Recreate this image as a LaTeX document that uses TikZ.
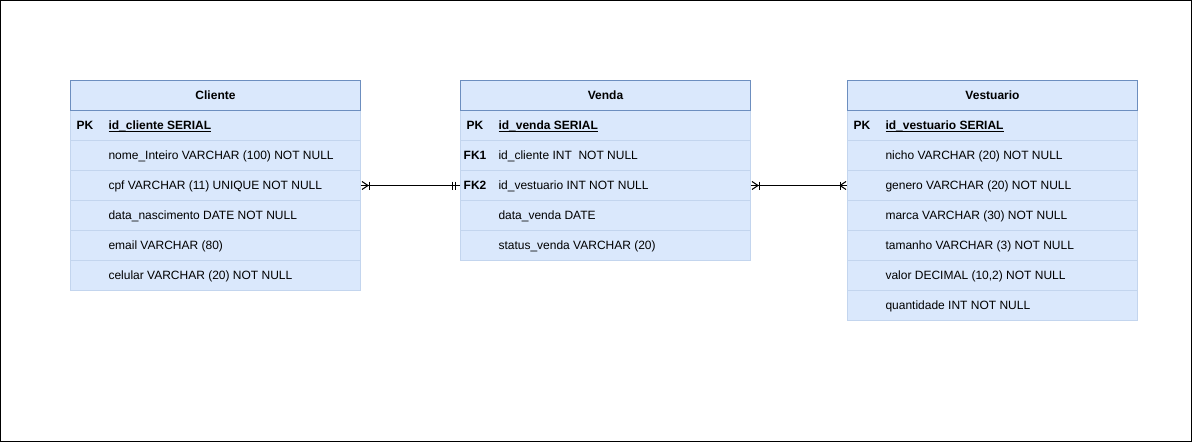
\documentclass[tikz,border=0pt]{standalone}
\usepackage{fontspec}
\setmainfont{Liberation Sans}
\definecolor{erfill}{HTML}{DAE8FC}
\definecolor{erline}{HTML}{6C8EBF}
\definecolor{errow}{HTML}{C3D5EE}
\newcommand\pkul[1]{\underline{\smash{#1}}}
\begin{document}
\begin{tikzpicture}[x=1pt,y=-1pt,line width=1pt,
  font=\fontsize{12}{14}\selectfont,
  rowbox/.style={draw=errow,fill=erfill,minimum width=290pt,minimum height=30pt,inner sep=0pt,anchor=north west},
  headbox/.style={draw=erline,fill=erfill,minimum width=290pt,minimum height=30pt,inner sep=0pt,anchor=north west,font=\fontsize{12}{14}\selectfont\bfseries},
  keytxt/.style={anchor=base,inner sep=0pt,font=\fontsize{12}{14}\selectfont\bfseries},
  fieldtxt/.style={anchor=base west,inner sep=0pt},
  pktxt/.style={anchor=base west,inner sep=0pt,font=\fontsize{12}{14}\selectfont\bfseries},
  conn/.style={draw=black,line width=1pt}
]
\useasboundingbox (0,0) rectangle (1192,442);
\draw[black,line width=1pt] (0.5,0.5) rectangle (1191.5,441.5);

% ---------- Cliente ----------
\foreach \i in {1,...,6} {\node[rowbox] (cr\i) at (70,{80+30*\i}) {};}
\node[headbox] (cliente) at (70,80) {Cliente};
\node[keytxt] (ck1) at (85,129.5) {PK};
\node[pktxt] (cf1) at (108,129.5) {\pkul{id\_cliente SERIAL}};
\node[fieldtxt] (cf2) at (108,159.5) {nome\_Inteiro VARCHAR (100) NOT NULL};
\node[fieldtxt] (cf3) at (108,189.5) {cpf VARCHAR (11) UNIQUE NOT NULL};
\node[fieldtxt] (cf4) at (108,219.5) {data\_nascimento DATE NOT NULL};
\node[fieldtxt] (cf5) at (108,249.5) {email VARCHAR (80)};
\node[fieldtxt] (cf6) at (108,279.5) {celular VARCHAR (20) NOT NULL};

% ---------- Venda ----------
\foreach \i in {1,...,5} {\node[rowbox] (vr\i) at (460,{80+30*\i}) {};}
\node[headbox] (venda) at (460,80) {Venda};
\node[keytxt] (vk1) at (475,129.5) {PK};
\node[keytxt] (vk2) at (475,159.5) {FK1};
\node[keytxt] (vk3) at (475,189.5) {FK2};
\node[pktxt] (vf1) at (498,129.5) {\pkul{id\_venda SERIAL}};
\node[fieldtxt] (vf2) at (498,159.5) {id\_cliente INT\ \ NOT NULL};
\node[fieldtxt] (vf3) at (498,189.5) {id\_vestuario INT NOT NULL};
\node[fieldtxt] (vf4) at (498,219.5) {data\_venda DATE};
\node[fieldtxt] (vf5) at (498,249.5) {status\_venda VARCHAR (20)};

% ---------- Vestuario ----------
\foreach \i in {1,...,7} {\node[rowbox] (sr\i) at (847,{80+30*\i}) {};}
\node[headbox] (vestuario) at (847,80) {Vestuario};
\node[keytxt] (sk1) at (862,129.5) {PK};
\node[pktxt] (sf1) at (885,129.5) {\pkul{id\_vestuario SERIAL}};
\node[fieldtxt] (sf2) at (885,159.5) {nicho VARCHAR (20) NOT NULL};
\node[fieldtxt] (sf3) at (885,189.5) {genero VARCHAR (20) NOT NULL};
\node[fieldtxt] (sf4) at (885,219.5) {marca VARCHAR (30) NOT NULL};
\node[fieldtxt] (sf5) at (885,249.5) {tamanho VARCHAR (3) NOT NULL};
\node[fieldtxt] (sf6) at (885,279.5) {valor DECIMAL (10,2) NOT NULL};
\node[fieldtxt] (sf7) at (885,309.5) {quantidade INT NOT NULL};

% ---------- Connector Cliente -- Venda ----------
\draw[conn] (cr3.east) -- (vr3.west);
\draw[conn] ([xshift=1pt,yshift=4pt]cr3.east) -- ([xshift=7pt]cr3.east) -- ([xshift=1pt,yshift=-4pt]cr3.east);
\draw[conn] ([xshift=8pt,yshift=4pt]cr3.east) -- ([xshift=8pt,yshift=-4pt]cr3.east);
\draw[conn] ([xshift=-8pt,yshift=4pt]vr3.west) -- ([xshift=-8pt,yshift=-4pt]vr3.west);
\draw[conn] ([xshift=-5pt,yshift=4pt]vr3.west) -- ([xshift=-5pt,yshift=-4pt]vr3.west);

% ---------- Connector Venda -- Vestuario ----------
\draw[conn] (vr3.east) -- (sr3.west);
\draw[conn] ([xshift=1pt,yshift=4pt]vr3.east) -- ([xshift=7pt]vr3.east) -- ([xshift=1pt,yshift=-4pt]vr3.east);
\draw[conn] ([xshift=8pt,yshift=4pt]vr3.east) -- ([xshift=8pt,yshift=-4pt]vr3.east);
\draw[conn] ([xshift=-1pt,yshift=4pt]sr3.west) -- ([xshift=-7pt]sr3.west) -- ([xshift=-1pt,yshift=-4pt]sr3.west);
\draw[conn] ([xshift=-7pt,yshift=4pt]sr3.west) -- ([xshift=-7pt,yshift=-4pt]sr3.west);
\end{tikzpicture}
\end{document}
